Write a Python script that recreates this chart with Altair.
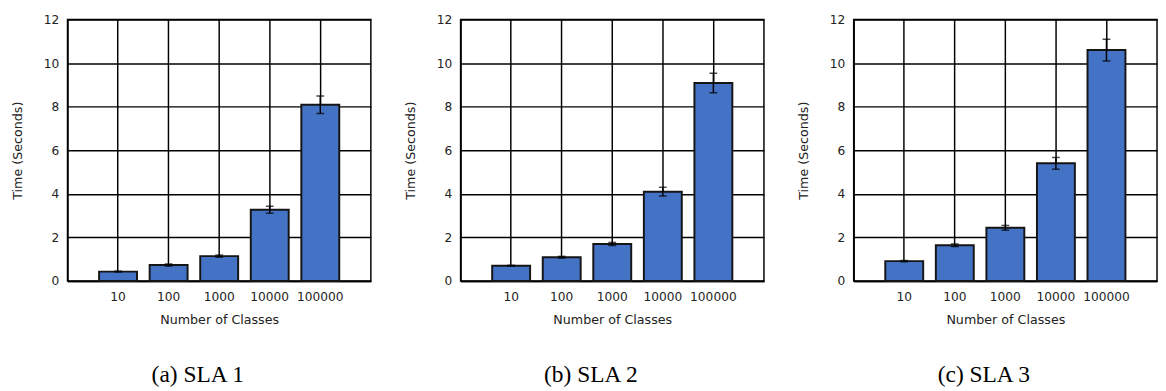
import altair as alt
import pandas as pd

categories = ["10", "100", "1000", "10000", "100000"]

sla1_time = [0.43, 0.73, 1.14, 3.27, 8.09]
sla1_err = [0.02, 0.05, 0.05, 0.16, 0.40]

sla2_time = [0.70, 1.09, 1.70, 4.10, 9.09]
sla2_err = [0.02, 0.04, 0.07, 0.20, 0.45]

sla3_time = [0.91, 1.64, 2.44, 5.40, 10.60]
sla3_err = [0.03, 0.06, 0.11, 0.27, 0.50]

captions = ["(a)  SLA 1", "(b)  SLA 2", "(c)  SLA 3"]
y_ticks = [0, 2, 4, 6, 8, 10, 12]

BAR_COLOR = "#4472C4"
TEXT_COLOR = "#222222"


def panel(vals, errs, caption):
    df = pd.DataFrame({
        "cls": categories,
        "t": vals,
        "lo": [v - e for v, e in zip(vals, errs)],
        "hi": [v + e for v, e in zip(vals, errs)],
    })
    xscale = alt.Scale(paddingInner=0.25, paddingOuter=0.625)
    xaxis = alt.Axis(title="Number of Classes", labelAngle=0, grid=True,
                     ticks=False, tickSize=0, labelPadding=10, titlePadding=11,
                     domain=True)
    yscale = alt.Scale(domain=[0, 12], nice=False, zero=True)
    yaxis = alt.Axis(title="Time (Seconds)", values=y_ticks, grid=True,
                     ticks=False, tickSize=0, labelPadding=9, titlePadding=19,
                     domain=True)

    def X():
        return alt.X("cls:N", sort=categories, scale=xscale, axis=xaxis)

    def Y(field):
        return alt.Y(field, type="quantitative", scale=yscale, axis=yaxis)

    base = alt.Chart(df)
    bars = base.mark_bar(color=BAR_COLOR, stroke="#151515", strokeWidth=2).encode(
        x=X(), y=Y("t"))
    rule = base.mark_rule(color="black", strokeWidth=1.5).encode(
        x=X(), y=Y("lo"), y2="hi")
    tick_hi = base.mark_tick(color="black", size=8, thickness=1.5).encode(
        x=X(), y=Y("hi"))
    tick_lo = base.mark_tick(color="black", size=8, thickness=1.5).encode(
        x=X(), y=Y("lo"))
    return alt.layer(bars, rule, tick_hi, tick_lo).properties(
        width=311, height=268,
        title=alt.TitleParams(caption, orient="bottom", font="Liberation Serif",
                              fontSize=24, fontWeight="normal", color="black",
                              anchor="middle", frame="group", dx=-22, offset=38),
    )


chart = alt.hconcat(
    panel(sla1_time, sla1_err, captions[0]),
    panel(sla2_time, sla2_err, captions[1]),
    panel(sla3_time, sla3_err, captions[2]),
    spacing=33,
).properties(
    padding={"left": 3, "top": 0, "right": 0, "bottom": 0}
).configure_view(
    stroke="black", strokeWidth=1.5
).configure_axis(
    gridColor="black", gridWidth=1.5, gridOpacity=1,
    domainColor="black", domainWidth=1.5,
    labelFont="DejaVu Sans", labelFontSize=12.5, labelColor=TEXT_COLOR,
    titleFont="DejaVu Sans", titleFontSize=13, titleFontWeight="normal",
    titleColor=TEXT_COLOR,
)

chart.save("out.html", embed_options={"renderer": "svg", "actions": False})
